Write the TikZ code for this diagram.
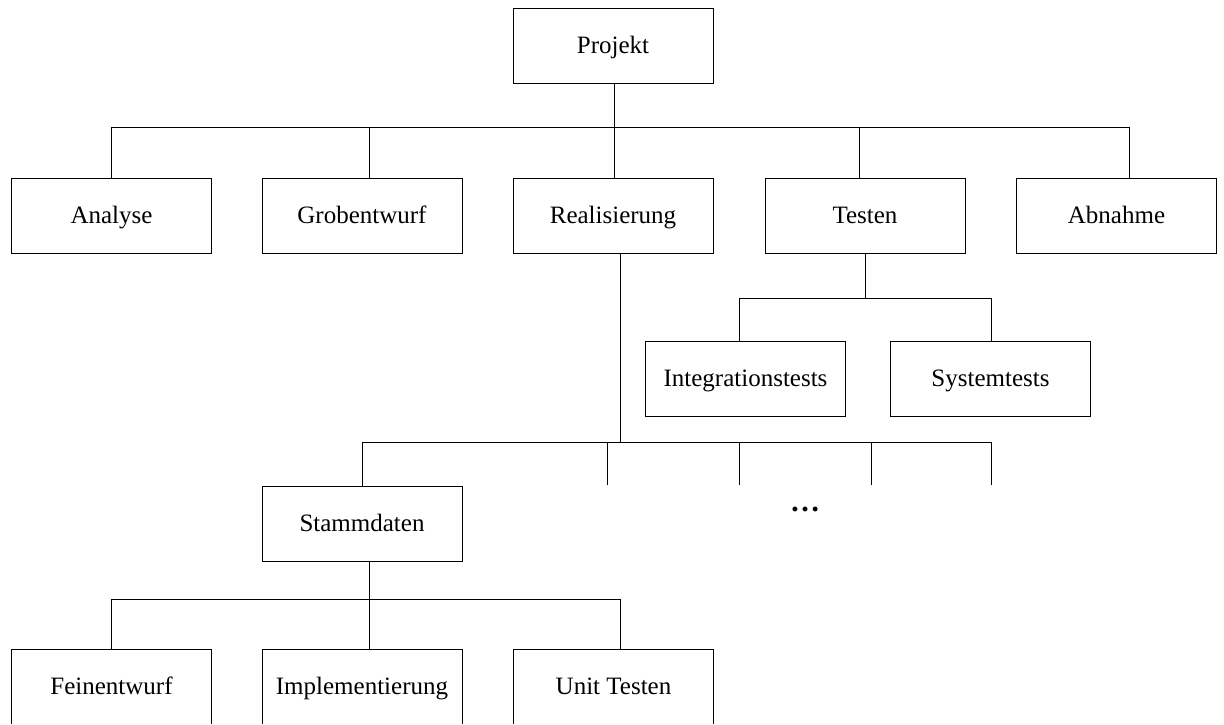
\documentclass[tikz,border=0pt]{standalone}
\usepackage{fontspec}
\setmainfont{Liberation Serif}
\begin{document}
\begin{tikzpicture}[x=1pt,y=-1pt,line width=1pt,
  box/.style={draw,rectangle,minimum width=200pt,minimum height=75pt,inner sep=0pt,
    font=\fontsize{25}{30}\selectfont,text height=19pt,text depth=3.5pt},
  link/.style={draw}]
\useasboundingbox (0,0) rectangle (1224,724);
\fill[white] (0,0) rectangle (1224,724);
\clip (0,0) rectangle (1224,723);
% nodes
\node[box] (proj) at (613,45.5) {Projekt};
\node[box] (ana) at (111.5,215.5) {Analyse};
\node[box] (grob) at (362,215.5) {Grobentwurf};
\node[box] (real) at (613,215.5) {Realisierung};
\node[box] (test) at (865,215.5) {Testen};
\node[box] (abn) at (1116.5,215.5) {Abnahme};
\node[box] (integ) at (745.5,378.5) {Integrationstests};
\node[box] (sys) at (990.5,378.5) {Systemtests};
\node[box] (stamm) at (362,523.5) {Stammdaten};
\node[box] (fein) at (111.5,687) {Feinentwurf};
\node[box] (impl) at (362,687) {Implementierung};
\node[box] (unit) at (613.5,687) {Unit Testen};
\node[font=\fontsize{30}{36}\selectfont\bfseries,inner sep=0pt] (dots) at (805,509) {…};
% level 1 bus
\coordinate (b0) at (614,127);
\coordinate (bl) at (111,127);
\coordinate (br) at (1129,127);
\draw[link] ([xshift=1pt]proj.south) -- (b0);
\draw[link] (bl) -- (br);
\draw[link] (bl) -- (bl |- ana.north);
\draw[link] (br) -- (br |- abn.north);
\draw[link] (369,127) -- (369,178);
\draw[link] (b0) -- (b0 |- real.north);
\draw[link] (859,127) -- (859,178);
% Testen
\coordinate (t0) at (865,298);
\coordinate (tl) at (739,298);
\coordinate (tr) at (991,298);
\draw[link] (test.south) -- (t0);
\draw[link] (tl) -- (tr);
\draw[link] (tl) -- (tl |- integ.north);
\draw[link] (tr) -- (tr |- sys.north);
% Realisierung
\coordinate (r0) at (620,442);
\coordinate (rl) at (362,442);
\coordinate (rr) at (991,442);
\draw[link] (r0 |- real.south) -- (r0);
\draw[link] (rl) -- (rr);
\draw[link] (rl) -- (stamm.north);
\coordinate (d1) at (607,485);
\coordinate (d2) at (739,485);
\coordinate (d3) at (871,485);
\coordinate (d4) at (991,485);
\draw[link] (d1) -- (607,442);
\draw[link] (d2) -- (739,442);
\draw[link] (d3) -- (871,442);
\draw[link] (d4) -- (991,442);
% Stammdaten
\coordinate (s0) at (369,599);
\coordinate (sl) at (111,599);
\coordinate (sr) at (620,599);
\draw[link] (s0 |- stamm.south) -- (s0);
\draw[link] (sl) -- (sr);
\draw[link] (sl) -- (sl |- fein.north);
\draw[link] (s0) -- (s0 |- impl.north);
\draw[link] (sr) -- (sr |- unit.north);
\end{tikzpicture}
\end{document}
